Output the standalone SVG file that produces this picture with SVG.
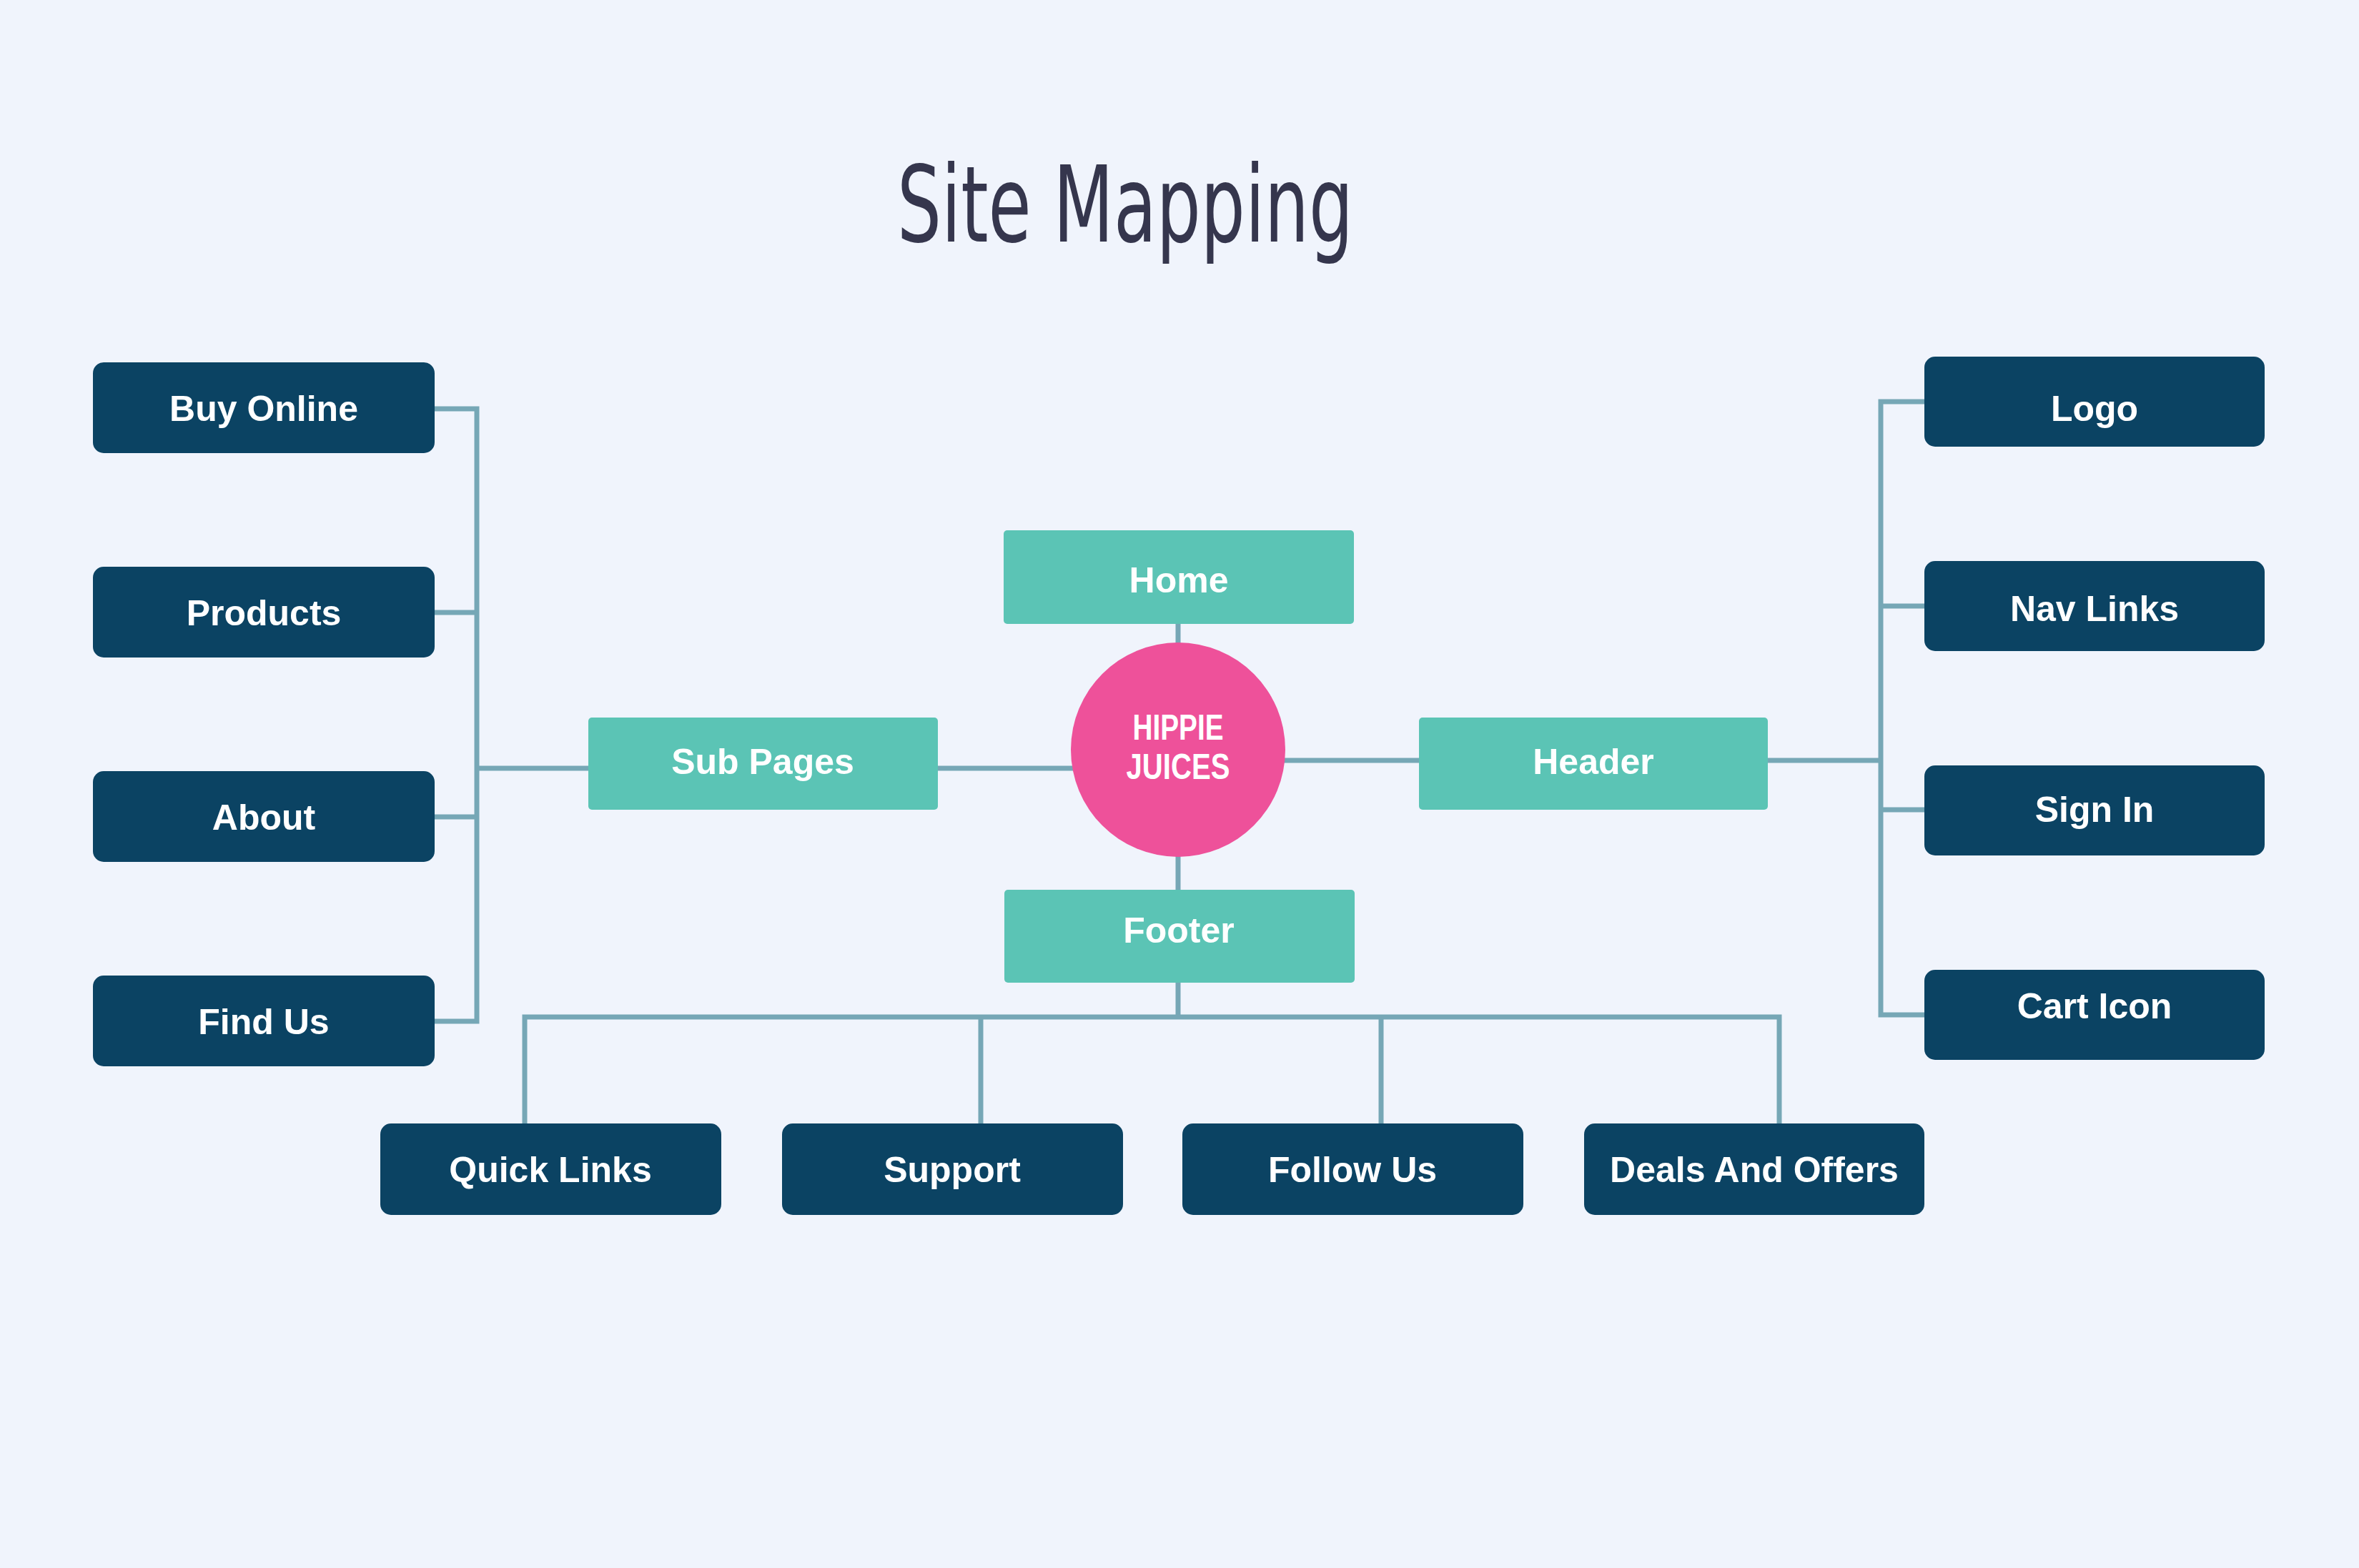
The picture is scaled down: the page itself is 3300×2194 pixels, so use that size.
<svg xmlns="http://www.w3.org/2000/svg" width="3300" height="2194" viewBox="0 0 3300 2194">
<style>
.bg{fill:#f0f4fc}
.dark{fill:#0b4363}
.teal{fill:#5bc4b5}
.hub{fill:#ee519a}
.lbl{font-family:"Liberation Sans","Noto Sans",Arial,sans-serif;font-weight:bold;font-size:50px;fill:#ffffff;text-anchor:middle}
.title{font-family:"Liberation Sans Narrow","DejaVu Sans Condensed","Liberation Sans",sans-serif;font-size:148px;fill:#35364d}
.conn{fill:none;stroke:#76a7b6;stroke-width:7;stroke-linejoin:miter;stroke-linecap:butt}
</style>
<rect class="bg" x="0" y="0" width="3300" height="2194"/>
<text class="title" x="1255" y="338" textLength="638" lengthAdjust="spacingAndGlyphs">Site Mapping</text>
<g id="connectors">
<path class="conn" d="M608,572 H667 V1429 H608"/>
<path class="conn" d="M608,857 H667"/>
<path class="conn" d="M608,1143 H667"/>
<path class="conn" d="M667,1075 H823"/>
<path class="conn" d="M1311,1075 H1505"/>
<path class="conn" d="M1795,1064 H1985"/>
<path class="conn" d="M2473,1064 H2631"/>
<path class="conn" d="M2692,562 H2631 V1420 H2692"/>
<path class="conn" d="M2631,848 H2692"/>
<path class="conn" d="M2631,1133 H2692"/>
<path class="conn" d="M1648,873 V902"/>
<path class="conn" d="M1648,1197 V1245"/>
<path class="conn" d="M1648,1375 V1423"/>
<path class="conn" d="M734,1572 V1423 H2489 V1572"/>
<path class="conn" d="M1372,1423 V1572"/>
<path class="conn" d="M1932,1423 V1572"/>
</g>
<g id="buy-online"><rect class="dark" x="130" y="507" width="478" height="127" rx="15"/><text class="lbl" x="369" y="589">Buy Online</text></g>
<g id="products"><rect class="dark" x="130" y="793" width="478" height="127" rx="15"/><text class="lbl" x="369" y="875">Products</text></g>
<g id="about"><rect class="dark" x="130" y="1079" width="478" height="127" rx="15"/><text class="lbl" x="369" y="1161">About</text></g>
<g id="find-us"><rect class="dark" x="130" y="1365" width="478" height="127" rx="15"/><text class="lbl" x="369" y="1447">Find Us</text></g>
<g id="logo"><rect class="dark" x="2692" y="499" width="476" height="126" rx="15"/><text class="lbl" x="2930" y="589">Logo</text></g>
<g id="nav-links"><rect class="dark" x="2692" y="785" width="476" height="126" rx="15"/><text class="lbl" x="2930" y="869">Nav Links</text></g>
<g id="sign-in"><rect class="dark" x="2692" y="1071" width="476" height="126" rx="15"/><text class="lbl" x="2930" y="1150">Sign In</text></g>
<g id="cart-icon"><rect class="dark" x="2692" y="1357" width="476" height="126" rx="15"/><text class="lbl" x="2930" y="1425">Cart Icon</text></g>
<g id="quick-links"><rect class="dark" x="532" y="1572" width="477" height="128" rx="15"/><text class="lbl" x="770" y="1654">Quick Links</text></g>
<g id="support"><rect class="dark" x="1094" y="1572" width="477" height="128" rx="15"/><text class="lbl" x="1332" y="1654">Support</text></g>
<g id="follow-us"><rect class="dark" x="1654" y="1572" width="477" height="128" rx="15"/><text class="lbl" x="1892" y="1654">Follow Us</text></g>
<g id="deals-and-offers"><rect class="dark" x="2216" y="1572" width="476" height="128" rx="15"/><text class="lbl" x="2454" y="1654">Deals And Offers</text></g>
<g id="home"><rect class="teal" x="1404" y="742" width="490" height="131" rx="5"/><text class="lbl" x="1649" y="829">Home</text></g>
<g id="sub-pages"><rect class="teal" x="823" y="1004" width="489" height="129" rx="5"/><text class="lbl" x="1067" y="1083">Sub Pages</text></g>
<g id="header"><rect class="teal" x="1985" y="1004" width="488" height="129" rx="5"/><text class="lbl" x="2229" y="1083">Header</text></g>
<g id="footer"><rect class="teal" x="1405" y="1245" width="490" height="130" rx="5"/><text class="lbl" x="1649" y="1319">Footer</text></g>
<g id="hippie-juices"><circle class="hub" cx="1648" cy="1049" r="150"/><text class="lbl" x="1648" y="1035" font-size="44" textLength="127" lengthAdjust="spacingAndGlyphs">HIPPIE</text><text class="lbl" x="1648" y="1090" font-size="44" textLength="145" lengthAdjust="spacingAndGlyphs">JUICES</text></g>
</svg>
